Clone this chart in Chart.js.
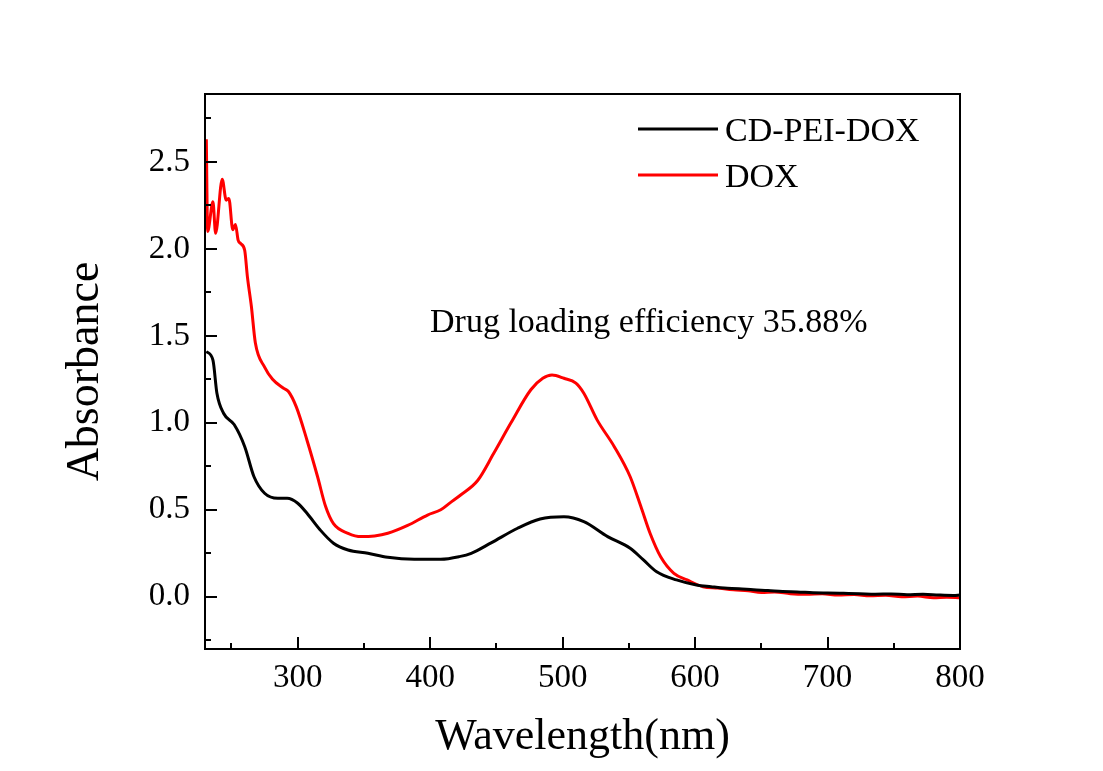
<!DOCTYPE html>
<html>
<head>
<meta charset="utf-8">
<title>UV-vis absorbance</title>
<script src="https://cdn.jsdelivr.net/npm/chart.js@4.4.1/dist/chart.umd.min.js"></script>
<style>
    html, body { margin: 0; padding: 0; background: #fff; }
    #wrap { width: 1103px; height: 771px; }
</style>
</head>
<body>
<div id="wrap"><canvas id="uvChart" width="1103" height="771"></canvas></div>
<script>
// Data (wavelength in nm, absorbance)
const cdWavelength = [231, 236, 239, 244, 252, 260, 267, 275, 285, 292, 300, 307, 317, 327, 338, 353, 368, 388, 408, 422, 431, 446, 466, 483, 501, 516, 534, 551, 561, 571, 586, 601, 612, 622, 633, 644, 655, 666, 677, 689, 700, 712, 724, 736, 748, 760, 772, 784, 795, 800];
const cdAbsorbance = [1.41, 1.36, 1.17, 1.055, 0.99, 0.863, 0.69, 0.595, 0.566, 0.566, 0.538, 0.48, 0.384, 0.308, 0.269, 0.25, 0.227, 0.216, 0.216, 0.231, 0.25, 0.31, 0.394, 0.447, 0.46, 0.432, 0.346, 0.279, 0.212, 0.144, 0.097, 0.068, 0.058, 0.05, 0.047, 0.04, 0.036, 0.03, 0.028, 0.024, 0.022, 0.02, 0.018, 0.015, 0.016, 0.012, 0.014, 0.01, 0.008, 0.01];

const doxWavelength = [231, 232, 236, 238, 243, 246, 248, 251, 253, 255, 257, 260, 262, 265, 268, 275, 281, 289, 293, 299, 307, 315, 321, 327, 338, 348, 358, 368, 383, 398, 408, 415, 423, 436, 448, 461, 476, 485, 492, 501, 510, 516, 526, 539, 551, 559, 566, 574, 584, 594, 606, 617, 629, 640, 650, 660, 672, 684, 696, 708, 720, 732, 744, 756, 768, 780, 790, 800];
const doxAbsorbance = [2.63, 2.10, 2.27, 2.09, 2.40, 2.28, 2.29, 2.11, 2.14, 2.05, 2.03, 1.99, 1.84, 1.67, 1.46, 1.32, 1.25, 1.20, 1.18, 1.09, 0.90, 0.69, 0.52, 0.42, 0.365, 0.346, 0.35, 0.365, 0.41, 0.47, 0.50, 0.54, 0.585, 0.67, 0.825, 1.00, 1.19, 1.256, 1.275, 1.256, 1.228, 1.17, 1.017, 0.863, 0.69, 0.52, 0.365, 0.23, 0.135, 0.097, 0.058, 0.05, 0.04, 0.035, 0.025, 0.028, 0.018, 0.015, 0.017, 0.01, 0.013, 0.006, 0.009, 0.0, 0.004, -0.005, -0.002, -0.006];

const seriesLabels = ['CD-PEI-DOX', 'DOX'];
const seriesColors = ['#000000', '#ff0000'];

const xTickValues = [300, 400, 500, 600, 700, 800];
const xMinorTicks = [250, 350, 450, 550, 650, 750];
const yTickValues = [0, 0.5, 1.0, 1.5, 2.0, 2.5];
const yMinorTicks = [-0.25, 0.25, 0.75, 1.25, 1.75, 2.25, 2.75];

const noteText = 'Drug loading efficiency 35.88%';

const serif = "'Liberation Serif', 'Times New Roman', serif";

function toPoints(xs, ys) {
    return xs.map((x, i) => ({ x: x, y: ys[i] }));
}

// frame, inward ticks, legend and the note are drawn on top of the chart
const framePlugin = {
    id: 'framePlugin',
    afterDraw(chart) {
        const { ctx, chartArea: a, scales } = chart;
        const xs = scales.x, ys = scales.y;
        ctx.save();
        ctx.strokeStyle = '#000';
        ctx.lineWidth = 2;
        ctx.strokeRect(a.left, a.top, a.right - a.left, a.bottom - a.top);

        ctx.lineWidth = 2;
        ctx.beginPath();
        xTickValues.forEach(v => {
            const px = Math.round(xs.getPixelForValue(v));
            ctx.moveTo(px, a.bottom); ctx.lineTo(px, a.bottom - 12);
        });
        xMinorTicks.forEach(v => {
            const px = Math.round(xs.getPixelForValue(v));
            ctx.moveTo(px, a.bottom); ctx.lineTo(px, a.bottom - 6);
        });
        yTickValues.forEach(v => {
            const py = Math.round(ys.getPixelForValue(v));
            ctx.moveTo(a.left, py); ctx.lineTo(a.left + 12, py);
        });
        yMinorTicks.forEach(v => {
            const py = Math.round(ys.getPixelForValue(v));
            ctx.moveTo(a.left, py); ctx.lineTo(a.left + 6, py);
        });
        ctx.stroke();

        // legend
        ctx.font = '34px ' + serif;
        ctx.fillStyle = '#000';
        ctx.textBaseline = 'alphabetic';
        ctx.textAlign = 'left';
        const legendRows = [129, 175];
        seriesLabels.forEach((label, i) => {
            ctx.strokeStyle = seriesColors[i];
            ctx.lineWidth = 3;
            ctx.beginPath();
            ctx.moveTo(638, legendRows[i]);
            ctx.lineTo(718, legendRows[i]);
            ctx.stroke();
            ctx.fillText(label, 725, legendRows[i] + 12);
        });

        // note
        ctx.fillText(noteText, 430, 332);
        ctx.restore();
    }
};

const ctx = document.getElementById('uvChart');
new Chart(ctx, {
    type: 'line',
    data: {
        datasets: [
            {
                label: seriesLabels[0],
                data: toPoints(cdWavelength, cdAbsorbance),
                borderColor: seriesColors[0],
                borderWidth: 3,
                pointRadius: 0,
                cubicInterpolationMode: 'monotone',
                fill: false,
            },
            {
                label: seriesLabels[1],
                data: toPoints(doxWavelength, doxAbsorbance),
                borderColor: seriesColors[1],
                borderWidth: 3,
                pointRadius: 0,
                cubicInterpolationMode: 'monotone',
                fill: false,
            }
        ]
    },
    options: {
        responsive: false,
        animation: false,
        devicePixelRatio: 1,
        layout: { padding: { top: 94, right: 143, left: 0, bottom: 0 } },
        plugins: {
            legend: { display: false },
            tooltip: { enabled: false },
        },
        scales: {
            x: {
                type: 'linear',
                min: 230,
                max: 800,
                grid: { display: false, drawTicks: false },
                border: { display: false },
                afterBuildTicks: (scale) => { scale.ticks = xTickValues.map(v => ({ value: v })); },
                afterFit: (scale) => { scale.height = 122; },
                ticks: {
                    font: { family: serif, size: 33 },
                    color: '#000',
                    padding: 10,
                    maxRotation: 0,
                    autoSkip: false,
                    callback: (v) => String(v),
                },
                title: {
                    display: true,
                    text: 'Wavelength(nm)',
                    font: { family: serif, size: 44 },
                    color: '#000',
                    padding: { top: 0, bottom: 7 },
                }
            },
            y: {
                min: -0.3,
                max: 2.89,
                grid: { display: false, drawTicks: false },
                border: { display: false },
                afterBuildTicks: (scale) => { scale.ticks = yTickValues.map(v => ({ value: v })); },
                afterFit: (scale) => { scale.width = 205; },
                ticks: {
                    font: { family: serif, size: 33 },
                    color: '#000',
                    padding: 15,
                    autoSkip: false,
                    callback: (v) => Number(v).toFixed(1),
                },
                title: {
                    display: true,
                    text: 'Absorbance',
                    font: { family: serif, size: 46 },
                    color: '#000',
                    padding: { top: 58, bottom: 0 },
                }
            }
        }
    },
    plugins: [framePlugin]
});
</script>
</body>
</html>
